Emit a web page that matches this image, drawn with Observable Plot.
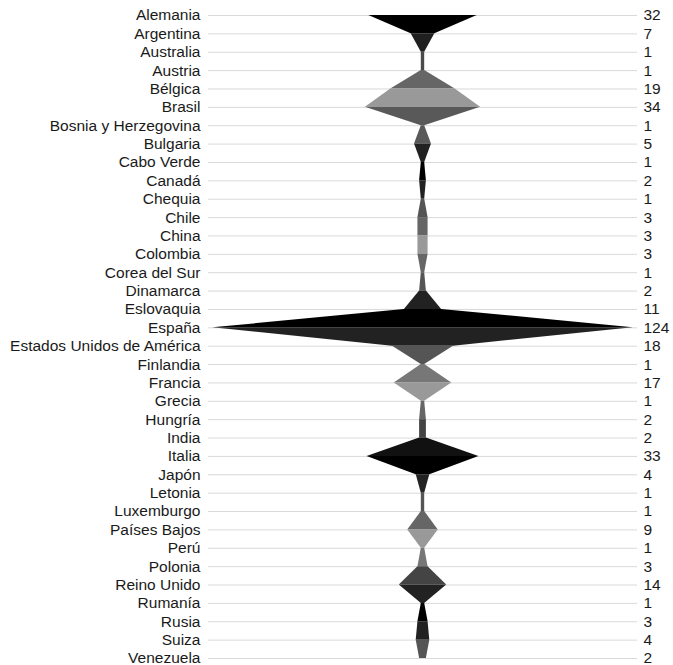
<!DOCTYPE html>
<html>
<head>
<meta charset="utf-8">
<script src="https://cdn.jsdelivr.net/npm/d3@7"></script>
<script src="https://cdn.jsdelivr.net/npm/@observablehq/plot@0.6"></script>
<style>
  html, body { margin: 0; padding: 0; background: #fff; }
  #chart svg { display: block; }
</style>
</head>
<body>
<div id="chart"></div>
<script>
const countries = ["Alemania","Argentina","Australia","Austria","Bélgica","Brasil","Bosnia y Herzegovina","Bulgaria","Cabo Verde","Canadá","Chequia","Chile","China","Colombia","Corea del Sur","Dinamarca","Eslovaquia","España","Estados Unidos de América","Finlandia","Francia","Grecia","Hungría","India","Italia","Japón","Letonia","Luxemburgo","Países Bajos","Perú","Polonia","Reino Unido","Rumanía","Rusia","Suiza","Venezuela"];
const values = [32,7,1,1,19,34,1,5,1,2,1,3,3,3,1,2,11,124,18,1,17,1,2,2,33,4,1,1,9,1,3,14,1,3,4,2];
// shade of each segment between consecutive countries
const segmentShades = ["#000000","#1f1f1f","#4a4a4a","#666666","#999999","#595959","#595959","#222222","#000000","#222222","#555555","#666666","#999999","#666666","#555555","#222222","#000000","#222222","#555555","#777777","#999999","#666666","#444444","#111111","#000000","#222222","#555555","#666666","#999999","#777777","#444444","#222222","#000000","#222222","#555555"];

const valueOf = new Map(countries.map((c, i) => [c, values[i]]));
const segPts = [];
for (let k = 0; k < countries.length - 1; k++) {
  segPts.push({country: countries[k], v: values[k], seg: k, shade: segmentShades[k]});
  segPts.push({country: countries[k + 1], v: values[k + 1], seg: k, shade: segmentShades[k]});
}

const chart = Plot.plot({
  width: 673,
  height: 665,
  marginTop: 15,
  marginBottom: 7,
  marginLeft: 208,
  marginRight: 36,
  style: {fontFamily: "'Liberation Sans', Arial, sans-serif", fontSize: "15.5px", color: "#1a1a1a"},
  x: {domain: [-126.6, 126.6], axis: null},
  y: {type: "point", domain: countries, padding: 0, round: false},
  color: {type: "identity"},
  marks: [
    Plot.gridY({stroke: "#d9d9d9", strokeOpacity: 1, strokeWidth: 1}),
    Plot.areaX(segPts, {y: "country", x1: d => -d.v, x2: d => d.v, z: "seg", fill: "shade", curve: "linear"}),
    Plot.axisY({anchor: "left", tickSize: 0, tickPadding: 8, fontSize: 15.5, label: null}),
    Plot.axisY({anchor: "right", tickSize: 0, tickPadding: 6, fontSize: 15.5, label: null, tickFormat: c => String(valueOf.get(c))})
  ]
});
document.getElementById("chart").appendChild(chart);
</script>
</body>
</html>
